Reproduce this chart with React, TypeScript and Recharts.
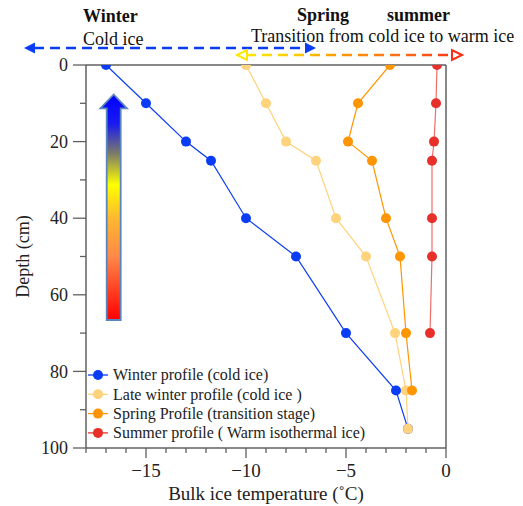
import React from 'react';
import { ScatterChart, Scatter, XAxis, YAxis, ReferenceLine, Legend } from 'recharts';

// Depth profiles of bulk ice temperature (°C) against depth (cm)
const winterDepth = [0, 10, 20, 25, 40, 50, 70, 85, 95];
const winterTemp = [-17.0, -15.0, -13.0, -11.75, -10.0, -7.5, -5.0, -2.5, -1.9];

const lateWinterDepth = [0, 10, 20, 25, 40, 50, 70, 85, 95];
const lateWinterTemp = [-10.0, -9.0, -8.0, -6.5, -5.5, -4.0, -2.55, -2.0, -1.9];

const springDepth = [0, 10, 20, 25, 40, 50, 70, 85];
const springTemp = [-2.8, -4.4, -4.9, -3.7, -3.0, -2.3, -2.0, -1.7];

const summerDepth = [0, 10, 20, 25, 40, 50, 70];
const summerTemp = [-0.45, -0.5, -0.6, -0.7, -0.7, -0.7, -0.8];

const seriesNames = [
  'Winter profile (cold ice)',
  'Late winter profile (cold ice )',
  'Spring Profile (transition stage)',
  'Summer profile ( Warm isothermal ice)',
];

const xTicks = [-18, -17, -16, -15, -14, -13, -12, -11, -10, -9, -8, -7, -6, -5, -4, -3, -2, -1, 0];
const xMajor = [-15, -10, -5, 0];
const yTicks = [0, 10, 20, 30, 40, 50, 60, 70, 80, 90, 100];
const yMajor = [0, 20, 40, 60, 80, 100];

const FONT = '"Liberation Serif", "Times New Roman", serif';
const AXIS = '#606060';
const COLORS = ['#0a3cf5', '#ffd27c', '#ff9500', '#e8302a'];

const toPoints = (temps: number[], depths: number[]) => temps.map((t, i) => ({ t, d: depths[i] }));

const series = [
  { name: seriesNames[0], color: COLORS[0], data: toPoints(winterTemp, winterDepth), lineOpacity: 1 },
  { name: seriesNames[1], color: COLORS[1], data: toPoints(lateWinterTemp, lateWinterDepth), lineOpacity: 1 },
  { name: seriesNames[2], color: COLORS[2], data: toPoints(springTemp, springDepth), lineOpacity: 1 },
  { name: seriesNames[3], color: COLORS[3], data: toPoints(summerTemp, summerDepth), lineOpacity: 0.7 },
];

const fmt = (v: number) => (v < 0 ? `\u2212${Math.abs(v)}` : `${v}`);

const XTick = (props: any) => {
  const { x, y, payload } = props;
  const v = payload.value;
  const major = xMajor.includes(v);
  return (
    <g>
      <line x1={x} x2={x} y1={y} y2={y + (major ? 10 : 5)} stroke={AXIS} strokeWidth={1.3} />
      {major && (
        <text x={x} y={y + 29} textAnchor="middle" fontFamily={FONT} fontSize={19} fill="#222">
          {fmt(v)}
        </text>
      )}
    </g>
  );
};

const YTick = (props: any) => {
  const { x, y, payload } = props;
  const v = payload.value;
  const major = yMajor.includes(v);
  return (
    <g>
      <line x1={x - (major ? 13 : 6)} x2={x} y1={y} y2={y} stroke={AXIS} strokeWidth={1.3} />
      {major && (
        <text x={x - 18} y={y} dy="0.34em" textAnchor="end" fontFamily={FONT} fontSize={18} fill="#222">
          {v}
        </text>
      )}
    </g>
  );
};

const dotShape = (color: string) => (props: any) => (
  <circle cx={props.cx} cy={props.cy} r={5} fill={color} />
);

const LegendBox = () => (
  <svg width={300} height={80} style={{ display: 'block' }}>
    {series.map((s, i) => {
      const cy = 11 + i * 19.3;
      return (
        <g key={s.name}>
          <line x1={4} x2={24} y1={cy} y2={cy} stroke={s.color} strokeWidth={1.3} />
          <circle cx={14} cy={cy} r={5} fill={s.color} />
          <text x={29} y={cy} dy="0.33em" fontFamily={FONT} fontSize={16} fill="#222">
            {s.name}
          </text>
        </g>
      );
    })}
  </svg>
);

const Annotations = () => (
  <svg
    width={523}
    height={506}
    style={{ position: 'absolute', left: 0, top: 0, pointerEvents: 'none' }}
  >
    <defs>
      <linearGradient id="seasonArrow" x1="0" y1="0" x2="0" y2="1">
        <stop offset="0" stopColor="#0000ff" />
        <stop offset="0.13" stopColor="#1a1af0" />
        <stop offset="0.26" stopColor="#7a7a6a" />
        <stop offset="0.40" stopColor="#ffff00" />
        <stop offset="0.55" stopColor="#fcb830" />
        <stop offset="0.72" stopColor="#ff8848" />
        <stop offset="0.88" stopColor="#ff3a20" />
        <stop offset="1" stopColor="#ff0000" />
      </linearGradient>
      <linearGradient id="warmArrow" gradientUnits="userSpaceOnUse" x1="236" y1="0" x2="463" y2="0">
        <stop offset="0" stopColor="#ffee00" />
        <stop offset="0.3" stopColor="#ffc400" />
        <stop offset="0.45" stopColor="#ff9900" />
        <stop offset="0.75" stopColor="#ff6a1a" />
        <stop offset="1" stopColor="#ff2a10" />
      </linearGradient>
    </defs>

    <g fontFamily={FONT} fontSize={18} fill="#111">
      <text x={83} y={22} fontWeight="bold">Winter</text>
      <text x={83} y={45}>Cold ice</text>
      <text x={297} y={21} fontWeight="bold">Spring</text>
      <text x={387} y={21} fontWeight="bold">summer</text>
      <text x={251} y={42}>Transition from cold ice to warm ice</text>
    </g>

    {/* winter span arrow */}
    <line x1={34} x2={306} y1={48} y2={48} stroke="#0a3cf5" strokeWidth={2.5} strokeDasharray="10 6" />
    <polygon points="24,48 35,42.5 35,53.5" fill="#0a3cf5" />
    <polygon points="316,48 305,42.5 305,53.5" fill="#0a3cf5" />

    {/* spring to summer span arrow */}
    <line x1={246} x2={453} y1={55} y2={55} stroke="url(#warmArrow)" strokeWidth={2.5} strokeDasharray="10 6" />
    <polygon points="237,55 247,50 247,60" fill="none" stroke="#ffe600" strokeWidth={2} />
    <polygon points="462,55 452,50 452,60" fill="none" stroke="#ff2a10" strokeWidth={2} />

    {/* seasonal warming arrow */}
    <path
      d="M113.7,94.5 L127,108.3 L120.7,108.3 L120.7,320 L106.7,320 L106.7,108.3 L100.4,108.3 Z"
      fill="url(#seasonArrow)"
      stroke="#5a86bf"
      strokeWidth={1.8}
      strokeLinejoin="miter"
    />
  </svg>
);

export default function App() {
  return (
    <div style={{ position: 'absolute', left: 0, top: 0, width: 523, height: 506, background: '#fff' }}>
      <ScatterChart width={523} height={506} margin={{ top: 65, right: 77, bottom: 0, left: 0 }}>
        <XAxis
          type="number"
          dataKey="t"
          domain={[-18, 0]}
          allowDataOverflow
          ticks={xTicks}
          interval={0}
          tickSize={0}
          tickMargin={0}
          tickLine={false}
          tick={<XTick />}
          height={58}
          stroke={AXIS}
          strokeWidth={1.5}
          label={{
            value: 'Bulk ice temperature (\u02DAC)',
            position: 'insideBottom',
            offset: 6,
            style: { fontFamily: FONT, fontSize: 19, fill: '#222' },
          }}
        />
        <YAxis
          type="number"
          dataKey="d"
          domain={[0, 100]}
          reversed
          allowDataOverflow
          ticks={yTicks}
          interval={0}
          tickSize={0}
          tickMargin={0}
          tickLine={false}
          tick={<YTick />}
          width={86}
          stroke={AXIS}
          strokeWidth={1.5}
          label={{
            value: 'Depth (cm)',
            angle: -90,
            position: 'insideLeft',
            offset: 23,
            style: { fontFamily: FONT, fontSize: 18, fill: '#222', textAnchor: 'middle' },
          }}
        />
        <ReferenceLine y={0} stroke={AXIS} strokeWidth={1.5} />
        <ReferenceLine x={0} stroke={AXIS} strokeWidth={1.5} />
        {series.map((s) => (
          <Scatter
            key={s.name}
            name={s.name}
            data={s.data}
            fill={s.color}
            line={{ stroke: s.color, strokeWidth: 1.2, strokeOpacity: s.lineOpacity }}
            shape={dotShape(s.color)}
            isAnimationActive={false}
          />
        ))}
        <Legend
          layout="horizontal"
          verticalAlign="middle"
          align="center"
          wrapperStyle={{ left: 84, top: 364, width: 300 }}
          content={() => <LegendBox />}
        />
      </ScatterChart>
      <Annotations />
    </div>
  );
}
